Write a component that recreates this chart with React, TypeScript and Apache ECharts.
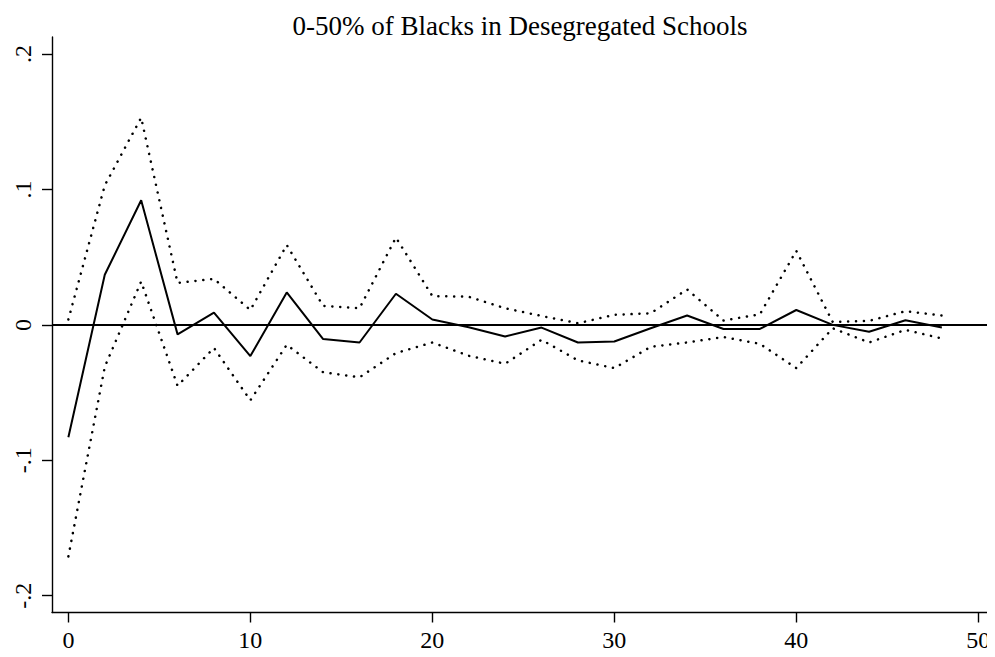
import React, { useEffect, useRef } from "react";
import * as echarts from "echarts";

const titleText = "0-50% of Blacks in Desegregated Schools";
const horizon = [0, 2, 4, 6, 8, 10, 12, 14, 16, 18, 20, 22, 24, 26, 28, 30, 32, 34, 36, 38, 40, 42, 44, 46, 48];
const estimate = [-0.083, 0.037, 0.092, -0.007, 0.009, -0.023, 0.024, -0.0105, -0.013, 0.023, 0.004, -0.0017, -0.0086, -0.002, -0.013, -0.0123, -0.0025, 0.0069, -0.003, -0.003, 0.011, 0.0, -0.0051, 0.0034, -0.002];
const upperBand = [0.004, 0.103, 0.153, 0.031, 0.034, 0.011, 0.059, 0.014, 0.0123, 0.0645, 0.0213, 0.0208, 0.0123, 0.0066, 0.0012, 0.0074, 0.0086, 0.0262, 0.0032, 0.0078, 0.0547, 0.0022, 0.003, 0.0101, 0.0069];
const lowerBand = [-0.171, -0.031, 0.032, -0.045, -0.017, -0.0557, -0.0147, -0.035, -0.0387, -0.0208, -0.013, -0.0228, -0.0287, -0.011, -0.0262, -0.0319, -0.0162, -0.013, -0.009, -0.014, -0.0319, -0.0025, -0.013, -0.0037, -0.01];
const xTicks = [0, 10, 20, 30, 40, 50];
const yTicks = [-0.2, -0.1, 0, 0.1, 0.2];
const yTickLabels = ["-.2", "-.1", "0", ".1", ".2"];

const FONT = "Liberation Serif";

export default function App() {
  const ref = useRef<HTMLDivElement>(null);
  useEffect(() => {
    if (!ref.current) return;
    const chart = echarts.init(ref.current, null, { renderer: "svg" });
    const pair = (ys: number[]) => horizon.map((x, i) => [x, ys[i]]);
    chart.setOption({
      animation: false,
      backgroundColor: "#ffffff",
      graphic: [
        {
          type: "text",
          x: 520,
          y: 26,
          style: {
            text: titleText,
            fontFamily: FONT,
            fontSize: 27,
            fill: "#000",
            textAlign: "center",
            textVerticalAlign: "middle",
          },
        },
      ],
      grid: { left: 52, right: 0, top: 37, bottom: 44.5, containLabel: false },
      xAxis: {
        type: "value",
        min: -0.9,
        max: 50.92,
        splitLine: { show: false },
        axisLine: { show: true, onZero: false, lineStyle: { color: "#000", width: 1.4 } },
        axisTick: { show: true, length: 10, customValues: xTicks, lineStyle: { color: "#000", width: 1.4 } },
        axisLabel: {
          customValues: xTicks,
          color: "#000",
          fontFamily: FONT,
          fontSize: 24,
          margin: 15,
        },
      },
      yAxis: {
        type: "value",
        min: -0.2124,
        max: 0.2126,
        splitLine: { show: false },
        axisLine: { show: true, onZero: false, lineStyle: { color: "#000", width: 1.4 } },
        axisTick: { show: true, length: 10, customValues: yTicks, lineStyle: { color: "#000", width: 1.4 } },
        axisLabel: {
          customValues: yTicks,
          rotate: 90,
          color: "#000",
          fontFamily: FONT,
          fontSize: 24,
          margin: 17,
          formatter: (v: number) => {
            const i = yTicks.findIndex((t) => Math.abs(t - v) < 1e-9);
            return i >= 0 ? yTickLabels[i] : "";
          },
        },
      },
      series: [
        {
          name: "upper",
          type: "line",
          data: pair(upperBand),
          symbol: "none",
          lineStyle: { color: "#000", width: 2.5, type: [0.1, 7.8], cap: "round" },
          z: 2,
        },
        {
          name: "lower",
          type: "line",
          data: pair(lowerBand),
          symbol: "none",
          lineStyle: { color: "#000", width: 2.5, type: [0.1, 7.8], cap: "round" },
          z: 2,
        },
        {
          name: "estimate",
          type: "line",
          data: pair(estimate),
          symbol: "none",
          lineStyle: { color: "#000", width: 2 },
          z: 3,
          markLine: {
            silent: true,
            symbol: "none",
            label: { show: false },
            lineStyle: { color: "#000", width: 2, type: "solid" },
            data: [{ yAxis: 0 }],
          },
        },
      ],
    });
    return () => chart.dispose();
  }, []);
  return <div ref={ref} style={{ width: 995, height: 657, margin: -8 }} />;
}
